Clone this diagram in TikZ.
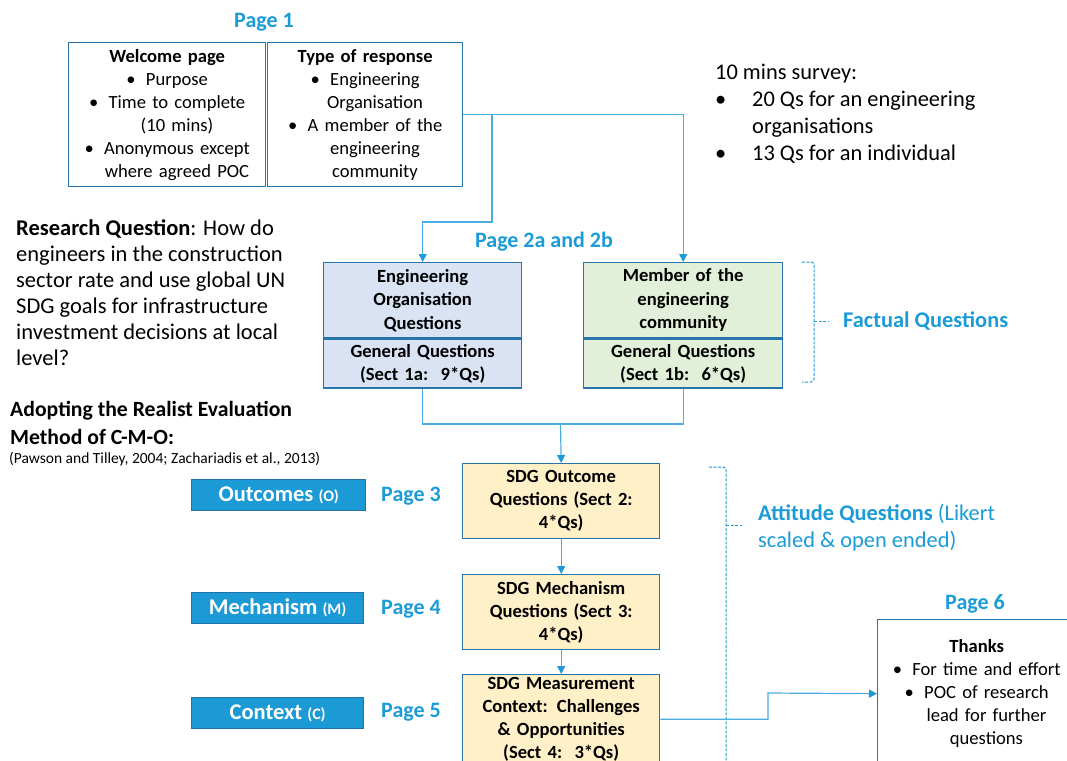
\documentclass[tikz,border=0pt]{standalone}
\usepackage{fontspec}
\setmainfont{Carlito}
\usetikzlibrary{arrows.meta}
\definecolor{pageblue}{RGB}{27,155,215}
\definecolor{boxborder}{RGB}{38,118,172}
\definecolor{connblue}{RGB}{75,172,226}
\definecolor{arrblue}{RGB}{30,152,214}
\definecolor{engfill}{RGB}{218,227,243}
\definecolor{memfill}{RGB}{226,240,217}
\definecolor{sdgfill}{RGB}{255,240,200}
\definecolor{cmofill}{RGB}{27,154,214}
\definecolor{cmoborder}{RGB}{36,112,168}
\newcommand{\myfs}[2]{\fontsize{#1}{#2}\selectfont}
\newcommand{\myb}{\makebox[1.05em][l]{\textbullet}}
\newcommand{\myc}{\hspace*{1.05em}}
\begin{document}
\begin{tikzpicture}[x=1pt,y=-1pt,
  box/.style={draw=boxborder,line width=1.4pt,inner sep=0pt,align=center,font=\myfs{18.6}{23}},
  sdg/.style={box,fill=sdgfill,font=\bfseries\myfs{18.6}{23},text width=197pt,anchor=north west},
  cmo/.style={draw=cmoborder,line width=1.4pt,fill=cmofill,text=white,font=\bfseries\myfs{22.5}{24},inner sep=0pt,anchor=north west,minimum height=31pt},
  pagelbl/.style={text=pageblue,font=\bfseries\myfs{22}{24},inner sep=0pt},
  conn/.style={draw=connblue,line width=1.2pt},
  arr/.style={-{Triangle[length=8pt,width=8pt,color=arrblue]}},
  bracestyle/.style={draw=arrblue,line width=1pt,dash pattern=on 3pt off 1.5pt,rounded corners=3pt}]
\useasboundingbox (0,0) rectangle (1067,760);
\clip (0,0) rectangle (1067,760);

% Page 1
\node[pagelbl] (p1) at (264,22) {Page 1};
\node[box,text width=197pt,minimum height=144pt,anchor=north west] (welcome) at (68,42)
  {\textbf{Welcome page}\\ \myb Purpose\\ \myb Time to complete\\ \myc(10 mins)\\ \myb Anonymous except\\ \myc where agreed POC};
\node[box,text width=195pt,minimum height=144pt,anchor=north west] (type) at (267,42)
  {\textbf{Type of response}\\ \myb Engineering\\ \myc Organisation\\ \myb A member of the\\ \myc engineering\\ \myc community};

% survey note
\node[anchor=north west,inner sep=0pt,align=left,font=\myfs{22.4}{27}] (survey) at (715,63.5)
  {10 mins survey:\\ \makebox[37pt][l]{\textbullet}20 Qs for an engineering\\ \hspace*{37pt}organisations\\ \makebox[37pt][l]{\textbullet}13 Qs for an individual};

% research question
\node[anchor=north west,inner sep=0pt,align=left,font=\myfs{22.5}{26}] (rq) at (16,219.5)
  {\textbf{Research Question}: How do\\ engineers in the construction\\ sector rate and use global UN\\ SDG goals for infrastructure\\ investment decisions at local\\ level?};

% Page 2
\node[pagelbl] (p2) at (544,242) {Page 2a and 2b};
\node[box,fill=engfill,font=\bfseries\myfs{18.6}{23.5},text width=198pt,minimum height=75pt,anchor=north west] (engtop) at (323,262)
  {Engineering\\ Organisation\\ Questions};
\node[box,fill=engfill,font=\bfseries\myfs{18.6}{23},text width=198pt,minimum height=49pt,anchor=north] (engbot) at (engtop.south)
  {General Questions\\ (Sect 1a:\ \ 9*Qs)};
\node[box,fill=memfill,font=\bfseries\myfs{18.6}{23.5},text width=199pt,minimum height=75pt,anchor=north west] (memtop) at (583,262)
  {Member of the\\ engineering\\ community};
\node[box,fill=memfill,font=\bfseries\myfs{18.6}{23},text width=199pt,minimum height=49pt,anchor=north] (membot) at (memtop.south)
  {General Questions\\ (Sect 1b:\ \ 6*Qs)};

\draw[bracestyle] (802,262) -| (814,321) |- (802,382);
\draw[bracestyle] (814,321) -- (828,321);
\node[anchor=west,inner sep=0pt,text=pageblue,font=\bfseries\myfs{22.4}{24}] (fq) at (843,321) {Factual Questions};

% connectors page1 -> page2
\coordinate (j1) at (492,222);
\draw[conn,arr] (type.east) -| (j1) -| (engtop.north);
\draw[conn,arr] (type.east) -| (memtop.north);

% CMO
\node[anchor=north west,inner sep=0pt,align=left,font=\bfseries\myfs{21.7}{28}] (adopt) at (10,401.5)
  {Adopting the Realist Evaluation\\ Method of C-M-O:};
\node[anchor=west,inner sep=0pt,font=\myfs{15.5}{16}] (cite) at (9,459)
  {(Pawson and Tilley, 2004; Zachariadis et al., 2013)};

\node[cmo,minimum width=174pt] (outc) at (191,479) {Outcomes {\myfs{16}{16}(O)}};
\node[cmo,minimum width=172pt] (mech) at (191,592) {Mechanism {\myfs{16}{16}(M)}};
\node[cmo,minimum width=172pt] (ctx) at (191,697) {Context {\myfs{16}{16}(C)}};
\node[pagelbl] (pg3) at (411,496) {Page 3};
\node[pagelbl] (pg4) at (411,609) {Page 4};
\node[pagelbl] (pg5) at (411,712) {Page 5};

% SDG boxes
\node[sdg,minimum height=75pt] (sdgo) at (462,463) {SDG Outcome\\ Questions (Sect 2:\\ 4*Qs)};
\node[sdg,minimum height=75pt] (sdgm) at (462,574) {SDG Mechanism\\ Questions (Sect 3:\\ 4*Qs)};
\node[sdg,minimum height=89pt] (sdgc) at (462,674) {SDG Measurement\\ Context: Challenges\\ \& Opportunities\\ (Sect 4:\ \ 3*Qs)};

\coordinate (j2) at (560.5,424);
\draw[conn] (engbot.south) |- (j2);
\draw[conn] (membot.south) |- (j2);
\draw[conn,arr] (j2) -- (sdgo.north);
\draw[conn,arr] (sdgo.south) -- (sdgm.north);
\draw[conn,arr] (sdgm.south) -- (sdgc.north);

% attitude brace
\draw[bracestyle] (709,467) -| (726,800);
\draw[bracestyle] (726,525) -- (742,525);
\node[anchor=north west,inner sep=0pt,align=left,text=pageblue,font=\myfs{22.4}{27}] (att) at (758,503.5)
  {\textbf{Attitude Questions} (Likert\\ scaled \& open ended)};

% Page 6
\node[pagelbl] (p6) at (975,604) {Page 6};
\node[box,text width=198pt,minimum height=148pt,anchor=north west] (thanks) at (877,619)
  {\textbf{Thanks}\\ \myb For time and effort\\ \myb POC of research\\ \myc lead for further\\ \myc questions};
\coordinate (j3) at (768,693);
\draw[conn,arr] (sdgc.east) -| (j3) -- (thanks.west);
\end{tikzpicture}
\end{document}
